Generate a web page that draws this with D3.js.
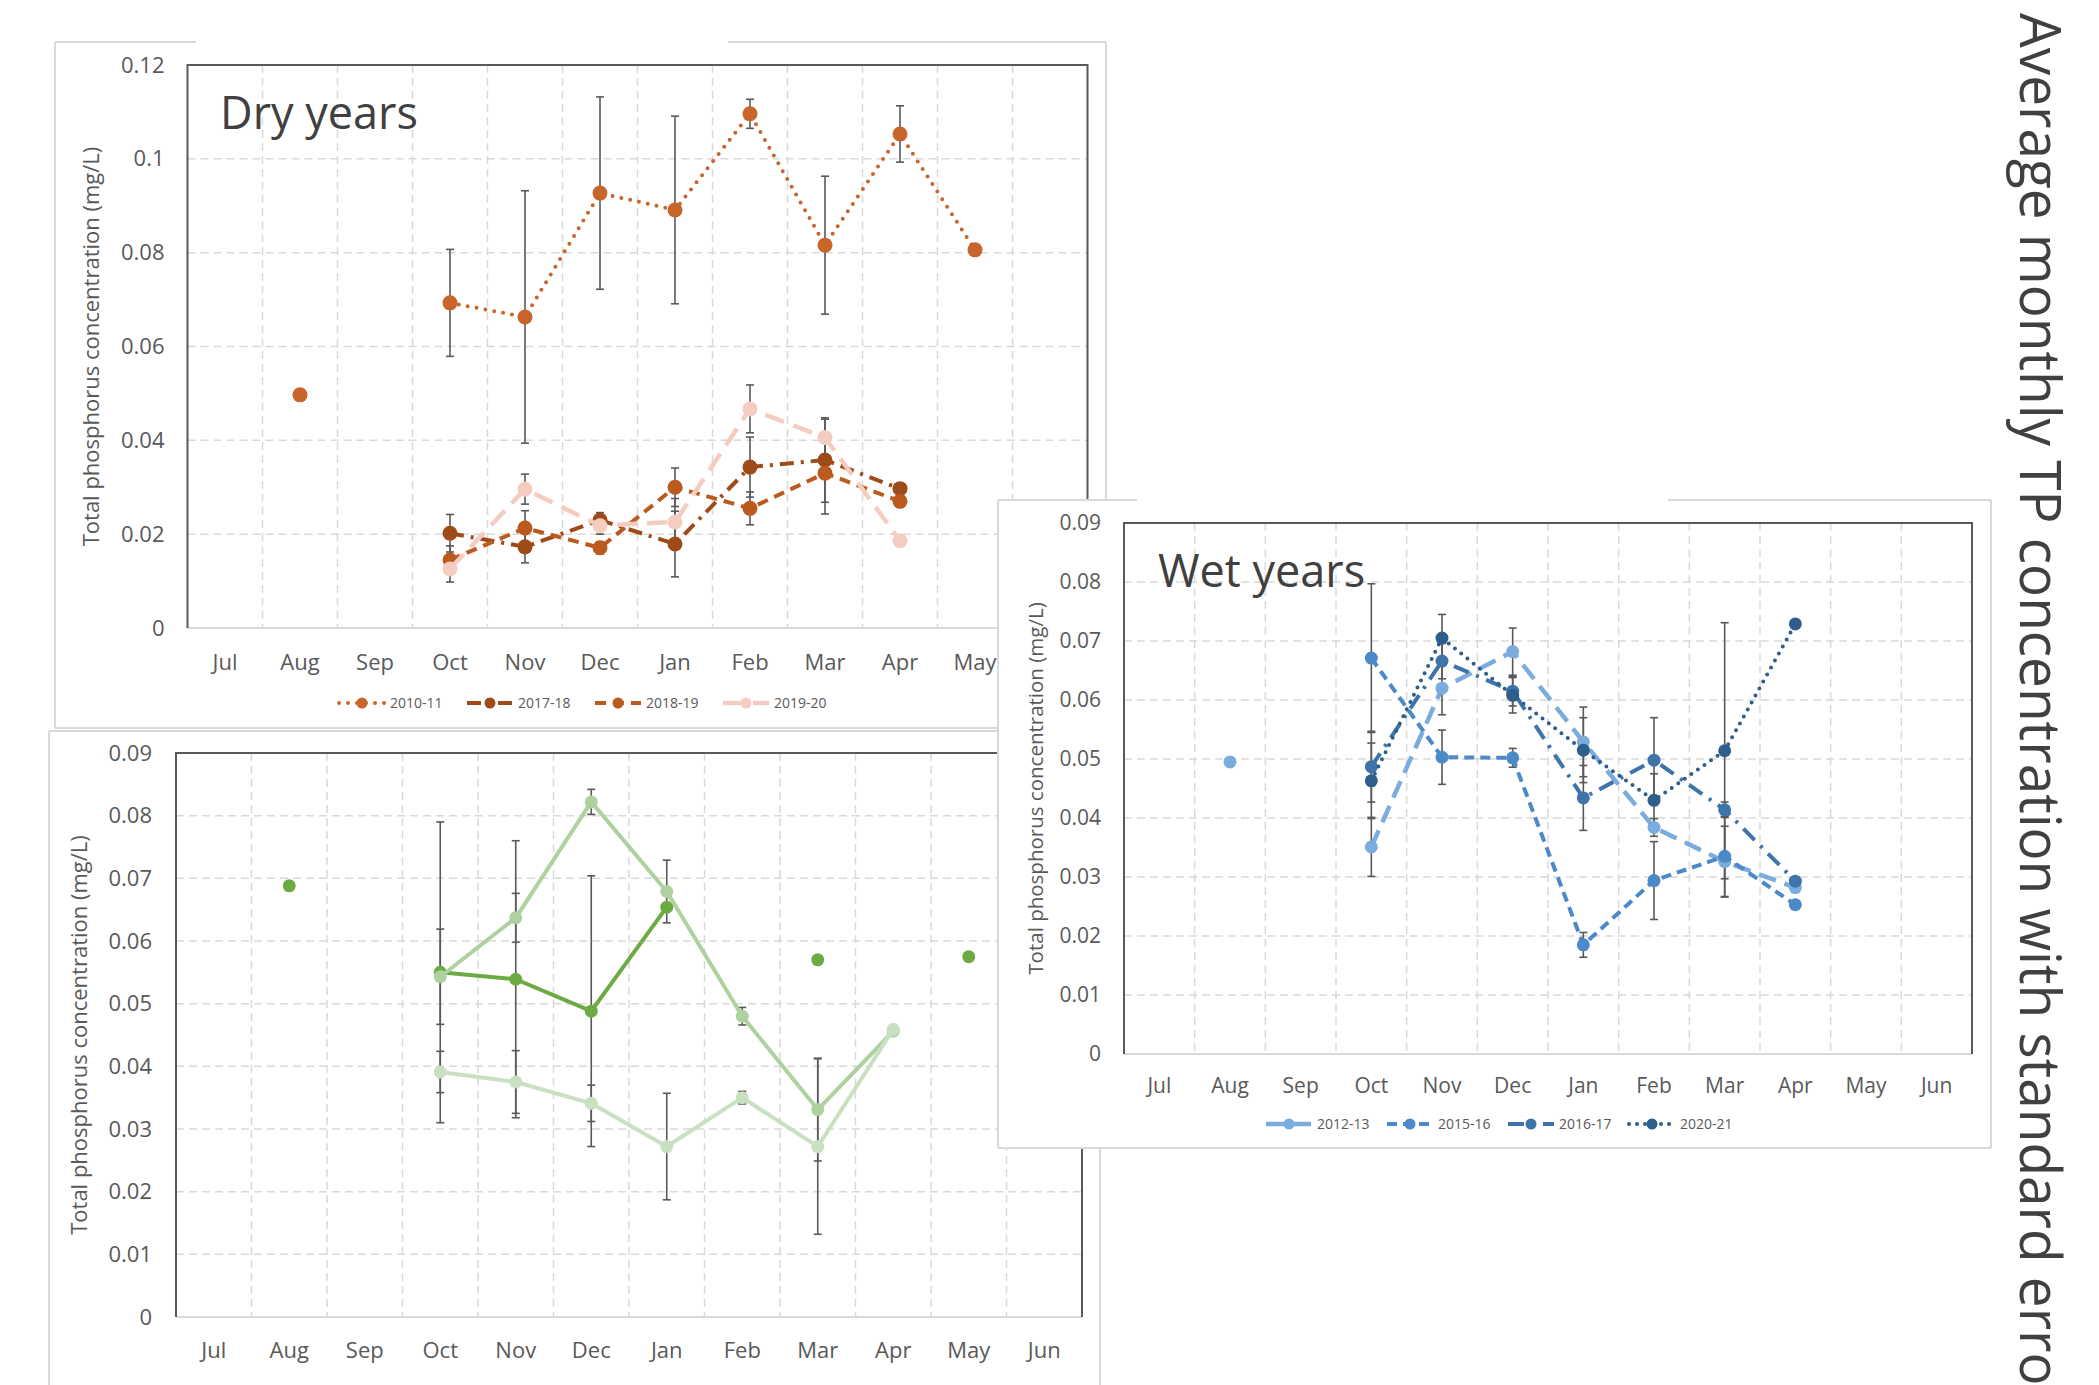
<!DOCTYPE html>
<html>
<head>
<meta charset="utf-8">
<script src="https://cdn.jsdelivr.net/npm/d3@7/dist/d3.min.js"></script>
<style>
  body { margin: 0; background: #fff; }
  svg { display: block; font-family: "Open Sans", "Noto Sans", sans-serif; }
</style>
</head>
<body>
<div id="chart"></div>
<script>
// x categories (hydrological year, Jul..Jun)
const months = ["Jul", "Aug", "Sep", "Oct", "Nov", "Dec", "Jan", "Feb", "Mar", "Apr", "May", "Jun"];

// y tick labels
const dryTicks = [0, 0.02, 0.04, 0.06, 0.08, 0.1, 0.12];
const wetTicks = [0, 0.01, 0.02, 0.03, 0.04, 0.05, 0.06, 0.07, 0.08, 0.09];

// Dry years (mean TP, mg/L, and standard error)
const dryNames = ["2010-11", "2017-18", "2018-19", "2019-20"];
const dry2010_11    = [null, 0.0497, null, 0.0693, 0.0663, 0.0927, 0.0891, 0.1096, 0.0816, 0.1053, 0.0806, null];
const dry2010_11Err = [null, null, null, 0.0114, 0.0269, 0.0205, 0.0200, 0.0031, 0.0147, 0.0060, null, null];
const dry2017_18    = [null, null, null, 0.0202, 0.0173, 0.0230, 0.0179, 0.0343, 0.0358, 0.0297, null, null];
const dry2017_18Err = [null, null, null, 0.0040, 0.0034, 0.0016, 0.0070, 0.0064, 0.0090, null, null, null];
const dry2018_19    = [null, null, null, 0.0145, 0.0213, 0.0171, 0.0300, 0.0255, 0.0330, 0.0270, null, null];
const dry2018_19Err = [null, null, null, 0.0030, 0.0037, 0.0013, 0.0041, 0.0035, 0.0087, null, null, null];
const dry2019_20    = [null, null, null, 0.0126, 0.0296, 0.0218, 0.0226, 0.0467, 0.0406, 0.0186, null, null];
const dry2019_20Err = [null, null, null, 0.0028, 0.0032, 0.0018, 0.0050, 0.0051, 0.0039, null, null, null];

// Wet years
const wetNames = ["2012-13", "2015-16", "2016-17", "2020-21"];
const wet2012_13    = [null, 0.0495, null, 0.0351, 0.0620, 0.0682, 0.0529, 0.0384, 0.0326, 0.0282, null, null];
const wet2012_13Err = [null, null, null, 0.0050, 0.0045, 0.0040, 0.0059, 0.0015, 0.0060, null, null, null];
const wet2015_16    = [null, null, null, 0.0671, 0.0503, 0.0502, 0.0185, 0.0294, 0.0335, 0.0253, null, null];
const wet2015_16Err = [null, null, null, 0.0126, 0.0046, 0.0016, 0.0021, 0.0066, 0.0068, null, null, null];
const wet2016_17    = [null, null, null, 0.0487, 0.0666, 0.0615, 0.0434, 0.0498, 0.0414, 0.0293, null, null];
const wet2016_17Err = [null, null, null, 0.0060, 0.0030, 0.0025, 0.0055, 0.0072, 0.0013, null, null, null];
const wet2020_21    = [null, null, null, 0.0463, 0.0705, 0.0608, 0.0515, 0.0430, 0.0514, 0.0729, null, null];
const wet2020_21Err = [null, null, null, 0.0064, 0.0040, 0.0030, 0.0055, 0.0045, 0.0217, null, null, null];

// Remaining years (green panel, legend not visible)
const greenA    = [null, 0.0688, null, 0.0550, 0.0539, 0.0488, 0.0654, null, 0.0570, null, 0.0575, null];
const greenAErr = [null, null, null, 0.0240, 0.0221, 0.0216, null, null, null, null, null, null];
const greenB    = [null, null, null, 0.0543, 0.0637, 0.0822, 0.0679, 0.0480, 0.0331, 0.0456, null, null];
const greenBErr = [null, null, null, 0.0076, 0.0039, 0.0020, 0.0050, 0.0014, 0.0082, null, null, null];
const greenC    = [null, null, null, 0.0391, 0.0375, 0.0341, 0.0272, 0.0350, 0.0272, 0.0459, null, null];
const greenCErr = [null, null, null, 0.0033, 0.0050, 0.0029, 0.0085, 0.0010, 0.0140, null, null, null];

const yTitle = "Total phosphorus concentration (mg/L)";
const mainTitle = "Average monthly TP concentration with standard error";

// series styles
const drySeries = [
  {name: dryNames[0], values: dry2010_11, err: dry2010_11Err, color: "#c8652b", dash: "0,9", cap: "round", width: 4},
  {name: dryNames[1], values: dry2017_18, err: dry2017_18Err, color: "#9e4b19", dash: "14,7,3,7", cap: "butt", width: 4},
  {name: dryNames[2], values: dry2018_19, err: dry2018_19Err, color: "#bb5a1f", dash: "11,7", cap: "butt", width: 4},
  {name: dryNames[3], values: dry2019_20, err: dry2019_20Err, color: "#f5cdc0", dash: "20,10", cap: "butt", width: 4.5}
];
const greenSeries = [
  {name: "A", values: greenA, err: greenAErr, color: "#6cab44", dash: null, cap: "round", width: 4},
  {name: "B", values: greenB, err: greenBErr, color: "#aed19f", dash: null, cap: "round", width: 4},
  {name: "C", values: greenC, err: greenCErr, color: "#c9e0c1", dash: null, cap: "round", width: 4}
];
const wetSeries = [
  {name: wetNames[0], values: wet2012_13, err: wet2012_13Err, color: "#7bacde", dash: "18,9", cap: "butt", width: 4.5},
  {name: wetNames[1], values: wet2015_16, err: wet2015_16Err, color: "#4c89c8", dash: "10,6", cap: "butt", width: 4},
  {name: wetNames[2], values: wet2016_17, err: wet2016_17Err, color: "#3f74aa", dash: "16,8,3,8", cap: "butt", width: 4},
  {name: wetNames[3], values: wet2020_21, err: wet2020_21Err, color: "#2e5e8b", dash: "0,8", cap: "round", width: 4}
];

const W = 2099, H = 1385;
const svg = d3.select("#chart").append("svg").attr("width", W).attr("height", H);

function drawPanel(cfg) {
  const [bx0, by0, bx1, by1] = cfg.box;
  const [px0, py0, px1, py1] = cfg.plot;
  const g = svg.append("g");

  // panel background + frame (top frame may have a gap)
  g.append("rect").attr("x", bx0).attr("y", by0).attr("width", bx1 - bx0).attr("height", by1 - by0).attr("fill", "#fff");
  let frame = cfg.gap ? [[bx0, by0, cfg.gap[0], by0], [cfg.gap[1], by0, bx1, by0]] : [[bx0, by0, bx1, by0]];
  frame.push([bx0, by0, bx0, by1], [bx1, by0, bx1, by1], [bx0, by1, bx1, by1]);
  g.selectAll(".frame").data(frame).enter().append("line")
    .attr("x1", d => d[0]).attr("y1", d => d[1]).attr("x2", d => d[2]).attr("y2", d => d[3])
    .attr("stroke", "#d9d9d9").attr("stroke-width", 2);

  const x = d3.scaleBand().domain(months).range([px0, px1]);
  const y = d3.scaleLinear().domain([0, d3.max(cfg.ticks)]).range([py1, py0]);
  const cx = m => x(m) + x.bandwidth() / 2;

  // dashed grid
  g.selectAll(".hgrid").data(cfg.ticks.slice(1, -1)).enter().append("line")
    .attr("x1", px0).attr("x2", px1).attr("y1", d => y(d)).attr("y2", d => y(d))
    .attr("stroke", "#d9d9d9").attr("stroke-width", 1.5).attr("stroke-dasharray", "8,5");
  g.selectAll(".vgrid").data(months.slice(1)).enter().append("line")
    .attr("x1", d => x(d)).attr("x2", d => x(d)).attr("y1", py0).attr("y2", py1)
    .attr("stroke", "#d9d9d9").attr("stroke-width", 1.5).attr("stroke-dasharray", "8,5");

  g.append("line").attr("x1", px0).attr("x2", px1).attr("y1", py1).attr("y2", py1)
    .attr("stroke", "#d9d9d9").attr("stroke-width", 2);
  g.append("path").attr("d", `M${px0},${py1}V${py0}H${px1}V${py1}`)
    .attr("fill", "none").attr("stroke", "#595959").attr("stroke-width", 2);

  // axes
  let ya = g.append("g").attr("transform", `translate(${px0},0)`)
    .call(d3.axisLeft(y).tickValues(cfg.ticks).tickSize(0).tickPadding(cfg.padY)
      .tickFormat(d => String(+d.toFixed(2))));
  let xa = g.append("g").attr("transform", `translate(0,${py1})`)
    .call(d3.axisBottom(x).tickSize(0).tickPadding(cfg.padX));
  [ya, xa].forEach(a => {
    a.attr("font-family", null).attr("font-size", null);
    a.select(".domain").remove();
    a.selectAll("text").attr("fill", "#595959").style("font-size", cfg.font + "px");
  });

  // axis title
  g.append("text")
    .attr("transform", `translate(${cfg.yTitle[0]},${(py0 + py1) / 2}) rotate(-90)`)
    .attr("text-anchor", "middle").attr("fill", "#595959")
    .style("font-size", cfg.yTitle[1] + "px").text(yTitle);

  // panel title
  if (cfg.title) {
    g.append("text").attr("x", cfg.title[1]).attr("y", cfg.title[2])
      .attr("fill", "#404040").style("font-size", "45px").text(cfg.title[0]);
  }

  const pts = s => s.values.map((v, i) => ({m: months[i], v: v, e: s.err[i]}));

  // error bars
  cfg.series.forEach(s => {
    const eb = pts(s).filter(d => d.v != null && d.e != null);
    const gg = g.append("g").attr("stroke", "#595959").attr("stroke-width", 1.6);
    gg.selectAll("line.v").data(eb).enter().append("line")
      .attr("x1", d => cx(d.m)).attr("x2", d => cx(d.m))
      .attr("y1", d => y(d.v - d.e)).attr("y2", d => y(d.v + d.e));
    gg.selectAll("line.t").data(eb).enter().append("line")
      .attr("x1", d => cx(d.m) - 4).attr("x2", d => cx(d.m) + 4)
      .attr("y1", d => y(d.v + d.e)).attr("y2", d => y(d.v + d.e));
    gg.selectAll("line.b").data(eb).enter().append("line")
      .attr("x1", d => cx(d.m) - 4).attr("x2", d => cx(d.m) + 4)
      .attr("y1", d => y(d.v - d.e)).attr("y2", d => y(d.v - d.e));
  });

  // lines and markers
  const line = d3.line().defined(d => d.v != null).x(d => cx(d.m)).y(d => y(d.v));
  cfg.series.forEach(s => {
    g.append("path").datum(pts(s)).attr("d", line)
      .attr("fill", "none").attr("stroke", s.color).attr("stroke-width", s.width)
      .attr("stroke-dasharray", s.dash).attr("stroke-linecap", s.cap).attr("stroke-linejoin", "round");
    g.selectAll(null).data(pts(s).filter(d => d.v != null)).enter().append("circle")
      .attr("cx", d => cx(d.m)).attr("cy", d => y(d.v)).attr("r", cfg.r).attr("fill", s.color);
  });

  // legend
  if (cfg.legend) {
    const [lx, ly, step] = cfg.legend;
    const lg = g.selectAll(".leg").data(cfg.series).enter().append("g")
      .attr("transform", (d, i) => `translate(${lx + i * step},${ly})`);
    lg.append("line").attr("x1", 0).attr("x2", 46).attr("y1", 0).attr("y2", 0)
      .attr("stroke", d => d.color).attr("stroke-width", d => d.width)
      .attr("stroke-dasharray", d => d.dash).attr("stroke-linecap", d => d.cap);
    lg.append("circle").attr("cx", 23).attr("r", 5.5).attr("fill", d => d.color);
    lg.append("text").attr("x", 51).attr("y", 5).attr("fill", "#595959")
      .style("font-size", "14px").text(d => d.name);
  }
}

drawPanel({
  box: [55, 42, 1106, 728], gap: [196, 728], plot: [187.5, 65, 1087.5, 628],
  ticks: dryTicks, series: drySeries, font: 22, padY: 23, padX: 26, r: 7.5,
  yTitle: [99, 22], title: ["Dry years", 220, 129], legend: [339, 703, 128]
});
drawPanel({
  box: [49, 731, 1100, 1400], gap: null, plot: [176, 753, 1082, 1317],
  ticks: wetTicks, series: greenSeries, font: 22, padY: 24, padX: 25, r: 6.5,
  yTitle: [87, 22], title: null, legend: null
});
drawPanel({
  box: [998, 500, 1991, 1148], gap: [1137, 1668], plot: [1124, 523, 1972, 1054],
  ticks: wetTicks, series: wetSeries, font: 21, padY: 23, padX: 24, r: 6.5,
  yTitle: [1043, 20.5], title: ["Wet years", 1158, 587], legend: [1266, 1124, 121]
});

// page title, running down the right edge (cut off by the page edge, as in the source)
svg.append("text")
  .attr("transform", "translate(2020,13) rotate(90)")
  .attr("fill", "#404040").style("font-size", "56px")
  .attr("textLength", 1395).attr("lengthAdjust", "spacingAndGlyphs")
  .text(mainTitle);
</script>
</body>
</html>
